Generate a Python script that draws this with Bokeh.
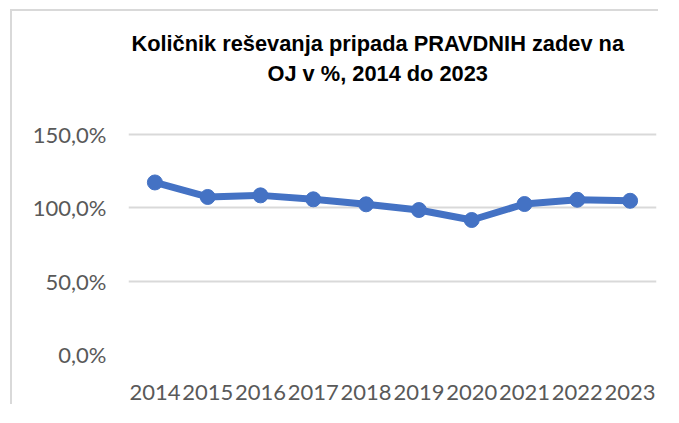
from bokeh.plotting import figure
from bokeh.models import FixedTicker, Label, FactorRange, Range1d
from bokeh.embed import file_html
from bokeh.resources import INLINE

years = ["2014", "2015", "2016", "2017", "2018", "2019", "2020", "2021", "2022", "2023"]
rates = [117.3, 107.4, 108.5, 105.8, 102.4, 98.5, 91.7, 102.6, 105.5, 104.8]
y_ticks = [0, 50, 100, 150]
y_tick_labels = ["0,0%", "50,0%", "100,0%", "150,0%"]
title_lines = ["Količnik reševanja pripada PRAVDNIH zadev na", "OJ v %, 2014 do 2023"]

BLUE = "#4472C4"
GREY_TXT = "#595959"

# layout (pixels): the plotting frame reaches the top of the canvas so the
# two-line title can sit inside it above the 150 % gridline
FRAME_H = 343          # canvas top -> 0 % line
AXIS_PX = 220          # 0 % -> 150 % distance
y_top = 150 * FRAME_H / AXIS_PX

p = figure(x_range=FactorRange(*years, range_padding=0), y_range=Range1d(0, y_top),
           width=648, height=395, output_backend="svg", toolbar_location=None,
           min_border_left=116, min_border_right=4, min_border_top=0, min_border_bottom=52)
p.margin = (9, 0, 0, 10)
p.styles = {"border-top": "2px solid #d9d9d9", "border-left": "2px solid #d9d9d9"}
p.outline_line_color = None
p.background_fill_color = "white"
p.border_fill_color = "white"

p.line(years, rates, line_width=7, color=BLUE)
p.scatter(years, rates, size=15, color=BLUE)

p.xgrid.visible = False
p.ygrid.grid_line_color = "#d9d9d9"
p.ygrid.grid_line_width = 2

p.yaxis.ticker = FixedTicker(ticks=y_ticks)
p.yaxis.major_label_overrides = {t: l for t, l in zip(y_ticks, y_tick_labels)}
for ax in (p.xaxis[0], p.yaxis[0]):
    ax.axis_line_color = None
    ax.major_tick_line_color = None
    ax.minor_tick_line_color = None
    ax.major_tick_out = 0
    ax.major_tick_in = 0
    ax.major_label_text_font = "Lato"
    ax.major_label_text_font_size = "22px"
    ax.major_label_text_color = GREY_TXT
p.yaxis.major_label_standoff = 22
p.xaxis.major_label_standoff = 30

px_per_unit = AXIS_PX / 150
for txt, base_px in zip(title_lines, (311, 281.5)):   # baseline height above the 0 % line
    p.add_layout(Label(x=4.72, y=base_px / px_per_unit, text=txt,
                       text_align="center", text_baseline="alphabetic",
                       text_font="Liberation Sans", text_font_style="bold",
                       text_font_size="21.8px", text_color="black"))

open("out.html", "w").write(file_html(p, INLINE))
